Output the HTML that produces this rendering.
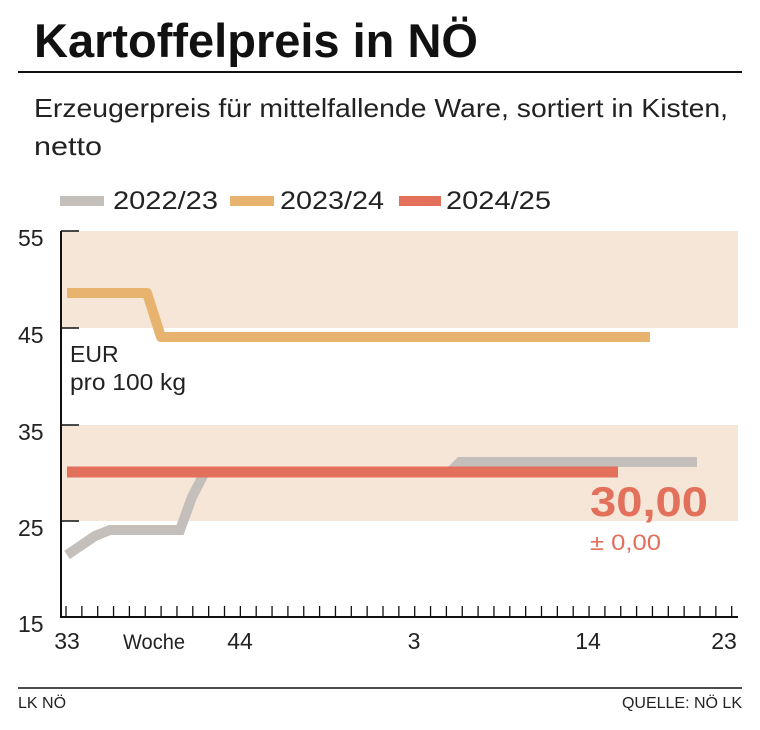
<!DOCTYPE html>
<html><head><meta charset="utf-8"><style>
body{margin:0;background:#fff;width:760px;height:725px;overflow:hidden}
svg text{font-family:"Liberation Sans Narrow","Liberation Sans",sans-serif}
</style></head><body>
<svg width="760" height="725" viewBox="0 0 760 725" xmlns="http://www.w3.org/2000/svg">
<text x="34" y="57" font-size="47" font-weight="bold" fill="#111">Kartoffelpreis in NÖ</text>
<line x1="18" y1="72" x2="742" y2="72" stroke="#111" stroke-width="2"/>
<text x="34" y="117" font-size="26" fill="#222" textLength="694" lengthAdjust="spacingAndGlyphs">Erzeugerpreis für mittelfallende Ware, sortiert in Kisten,</text>
<text x="34" y="155" font-size="26" fill="#222" textLength="68" lengthAdjust="spacingAndGlyphs">netto</text>
<line x1="60" y1="201" x2="104" y2="201" stroke="#c4bfbb" stroke-width="10"/>
<text x="113" y="209" font-size="25" fill="#222" textLength="105" lengthAdjust="spacingAndGlyphs">2022/23</text>
<line x1="230" y1="201" x2="274" y2="201" stroke="#e8b36e" stroke-width="10"/>
<text x="280" y="209" font-size="25" fill="#222" textLength="104" lengthAdjust="spacingAndGlyphs">2023/24</text>
<line x1="399" y1="201" x2="441" y2="201" stroke="#e2705a" stroke-width="10"/>
<text x="446" y="209" font-size="25" fill="#222" textLength="105" lengthAdjust="spacingAndGlyphs">2024/25</text>
<rect x="61" y="231" width="677" height="97" fill="#f6e6d8"/>
<rect x="61" y="425" width="677" height="96" fill="#f6e6d8"/>
<line x1="61" y1="231" x2="61" y2="618" stroke="#111" stroke-width="2"/>
<line x1="60" y1="617" x2="738" y2="617" stroke="#111" stroke-width="2"/>
<g stroke="#111" stroke-width="1.5">
<line x1="61" y1="231" x2="79" y2="231"/><line x1="61" y1="328" x2="79" y2="328"/><line x1="61" y1="425" x2="79" y2="425"/><line x1="61" y1="521" x2="79" y2="521"/>
</g>
<g id="ticks" stroke="#111" stroke-width="1.3"></g>
<g font-size="23" fill="#222">
<text x="18" y="246">55</text><text x="18" y="343">45</text><text x="18" y="440">35</text><text x="18" y="536">25</text><text x="18" y="632">15</text>
<text x="67" y="649" text-anchor="middle">33</text>
<text x="154" y="649" text-anchor="middle" font-size="21" textLength="62" lengthAdjust="spacingAndGlyphs">Woche</text>
<text x="240" y="649" text-anchor="middle">44</text>
<text x="414" y="649" text-anchor="middle">3</text>
<text x="588" y="649" text-anchor="middle">14</text>
<text x="724" y="649" text-anchor="middle">23</text>
<text x="70" y="362">EUR</text>
<text x="70" y="390" textLength="116" lengthAdjust="spacingAndGlyphs">pro 100 kg</text>
</g>
<polyline points="67,293 147,293 161,337 650,337" fill="none" stroke="#e8b36e" stroke-width="10" stroke-linejoin="round"/>
<polyline points="67,555 95,536 110,530 180,530 192,497 205,472 450,472 460,462 697,462" fill="none" stroke="#c4bfbb" stroke-width="10"/>
<line x1="67" y1="472" x2="618" y2="472" stroke="#e2705a" stroke-width="11"/>
<text x="590" y="516" font-size="42" font-weight="bold" fill="#e2705a" textLength="118" lengthAdjust="spacingAndGlyphs">30,00</text>
<text x="590" y="550" font-size="22" fill="#e2705a" textLength="71" lengthAdjust="spacingAndGlyphs">± 0,00</text>
<line x1="18" y1="688" x2="742" y2="688" stroke="#111" stroke-width="1.5"/>
<text x="18" y="708" font-size="16" fill="#222">LK NÖ</text>
<text x="742" y="708" font-size="16" fill="#222" text-anchor="end">QUELLE: NÖ LK</text>
</svg>
<script>
var g=document.getElementById('ticks'),s='';
for(var i=0;i<=42;i++){var x=66+15.85*i;if(x>737)x=737;s+='<line x1="'+x+'" y1="606" x2="'+x+'" y2="617"/>';}
g.innerHTML=s;
</script>
</body></html>
